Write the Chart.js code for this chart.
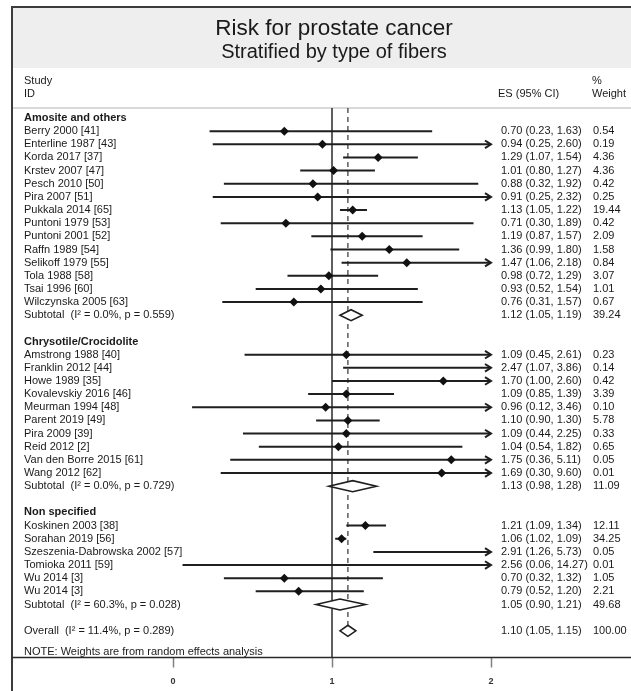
<!DOCTYPE html>
<html><head><meta charset="utf-8">
<script src="https://cdn.jsdelivr.net/npm/chart.js@4"></script>
<style>html,body{margin:0;padding:0;background:#fff}canvas{display:block}</style>
</head><body>
<canvas id="c" width="631" height="691"></canvas>
<script>
const titleText = 'Risk for prostate cancer';
const subtitleText = 'Stratified by type of fibers';
const groupNames = ['Amosite and others', 'Chrysotile/Crocidolite', 'Non specified'];
const studyNames = [
  'Berry 2000 [41]', 'Enterline 1987 [43]', 'Korda 2017 [37]', 'Krstev 2007 [47]', 'Pesch 2010 [50]',
  'Pira 2007 [51]', 'Pukkala 2014 [65]', 'Puntoni 1979 [53]', 'Puntoni 2001 [52]', 'Raffn 1989 [54]',
  'Selikoff 1979 [55]', 'Tola 1988 [58]', 'Tsai 1996 [60]', 'Wilczynska 2005 [63]',
  'Amstrong 1988 [40]', 'Franklin 2012 [44]', 'Howe 1989 [35]', 'Kovalevskiy 2016 [46]', 'Meurman 1994 [48]',
  'Parent 2019 [49]', 'Pira 2009 [39]', 'Reid 2012 [2]', 'Van den Borre 2015 [61]', 'Wang 2012 [62]',
  'Koskinen 2003 [38]', 'Sorahan 2019 [56]', 'Szeszenia-Dabrowska 2002 [57]', 'Tomioka 2011 [59]',
  'Wu 2014 [3]', 'Wu 2014 [3]'
];
const studyGroup = [0,0,0,0,0,0,0,0,0,0,0,0,0,0, 1,1,1,1,1,1,1,1,1,1, 2,2,2,2,2,2];
const esValues = [0.70, 0.94, 1.29, 1.01, 0.88, 0.91, 1.13, 0.71, 1.19, 1.36, 1.47, 0.98, 0.93, 0.76,
  1.09, 2.47, 1.70, 1.09, 0.96, 1.10, 1.09, 1.04, 1.75, 1.69,
  1.21, 1.06, 2.91, 2.56, 0.70, 0.79];
const ciLower = [0.23, 0.25, 1.07, 0.80, 0.32, 0.25, 1.05, 0.30, 0.87, 0.99, 1.06, 0.72, 0.52, 0.31,
  0.45, 1.07, 1.00, 0.85, 0.12, 0.90, 0.44, 0.54, 0.36, 0.30,
  1.09, 1.02, 1.26, 0.06, 0.32, 0.52];
const ciUpper = [1.63, 2.60, 1.54, 1.27, 1.92, 2.32, 1.22, 1.89, 1.57, 1.80, 2.18, 1.29, 1.54, 1.57,
  2.61, 3.86, 2.60, 1.39, 3.46, 1.30, 2.25, 1.82, 5.11, 9.60,
  1.34, 1.09, 5.73, 14.27, 1.32, 1.20];
const weightPct = [0.54, 0.19, 4.36, 4.36, 0.42, 0.25, 19.44, 0.42, 2.09, 1.58, 0.84, 3.07, 1.01, 0.67,
  0.23, 0.14, 0.42, 3.39, 0.10, 5.78, 0.33, 0.65, 0.05, 0.01,
  12.11, 34.25, 0.05, 0.01, 1.05, 2.21];
const subtotalI2 = [0.0, 0.0, 60.3];
const subtotalP = [0.559, 0.729, 0.028];
const subtotalES = [1.12, 1.13, 1.05];
const subtotalLower = [1.05, 0.98, 0.90];
const subtotalUpper = [1.19, 1.28, 1.21];
const subtotalWeight = [39.24, 11.09, 49.68];
const overallI2 = [11.4];
const overallP = [0.289];
const overallES = [1.10];
const overallLower = [1.05];
const overallUpper = [1.15];
const overallWeight = [100.00];
const xTicks = [0, 1, 2];
const noteText = 'NOTE: Weights are from random effects analysis';

// ---- build rows ----
const X_MIN = xTicks[0], X_MAX = xTicks[xTicks.length - 1];
const rows = [];
let r = 0;
groupNames.forEach((g, gi) => {
  rows.push({ kind: 'header', row: r++, label: g });
  studyNames.forEach((s, i) => {
    if (studyGroup[i] !== gi) return;
    rows.push({ kind: 'study', row: r++, label: s, es: esValues[i], lo: ciLower[i], hi: ciUpper[i], w: weightPct[i] });
  });
  rows.push({ kind: 'sub', row: r++, label: 'Subtotal  (I\u00B2 = ' + subtotalI2[gi].toFixed(1) + '%, p = ' + subtotalP[gi].toFixed(3) + ')',
    es: subtotalES[gi], lo: subtotalLower[gi], hi: subtotalUpper[gi], w: subtotalWeight[gi] });
  r++;
});
rows.push({ kind: 'overall', row: r, label: 'Overall  (I\u00B2 = ' + overallI2[0].toFixed(1) + '%, p = ' + overallP[0].toFixed(3) + ')',
  es: overallES[0], lo: overallLower[0], hi: overallUpper[0], w: overallWeight[0] });
const overallRow = r;
const noteRow = r + 1.6;

const FONT = "'Liberation Sans', Arial, Helvetica, sans-serif";
const datasets = [];
const markerData = [];
rows.forEach(o => {
  if (o.kind !== 'study') return;
  datasets.push({
    data: [{ x: Math.max(o.lo, X_MIN), y: o.row }, { x: Math.min(o.hi, X_MAX), y: o.row }],
    showLine: true, pointRadius: 0, borderColor: '#1f1f1f', borderWidth: 2, order: 2
  });
  if (o.es >= X_MIN && o.es <= X_MAX) markerData.push({ x: o.es, y: o.row });
});
datasets.push({
  data: markerData, pointStyle: 'rectRot', pointRadius: 4.5, pointBackgroundColor: '#111',
  pointBorderColor: '#111', pointBorderWidth: 0, showLine: false, order: 0
});

const fmt = v => v.toFixed(2);

const forestPlugin = {
  id: 'forest',
  beforeDraw(chart) {
    const c = chart.ctx, W = chart.width, H = chart.height;
    c.save();
    c.fillStyle = '#ffffff'; c.fillRect(0, 0, W, H);
    c.fillStyle = '#eeeeee'; c.fillRect(13, 8, W - 13, 60);
    c.strokeStyle = '#3c3c3c'; c.lineWidth = 2;
    c.beginPath(); c.moveTo(12, H); c.lineTo(12, 7); c.lineTo(W, 7); c.stroke();
    c.strokeStyle = '#cccccc'; c.lineWidth = 1.5;
    c.beginPath(); c.moveTo(13, chart.chartArea.top); c.lineTo(W, chart.chartArea.top); c.stroke();
    c.fillStyle = '#1a1a1a'; c.textAlign = 'center'; c.textBaseline = 'middle';
    c.font = '22.5px ' + FONT; c.fillText(titleText, 334, 29);
    c.font = '20px ' + FONT; c.fillText(subtitleText, 334, 52);
    c.font = '11px ' + FONT; c.textAlign = 'left';
    c.fillText('Study', 24, 81); c.fillText('ID', 24, 94);
    c.fillText('ES (95% CI)', 498, 94);
    c.fillText('%', 592, 81); c.fillText('Weight', 592, 94);
    c.restore();
  },
  beforeDatasetsDraw(chart) {
    const c = chart.ctx, xs = chart.scales.x, ys = chart.scales.y, ca = chart.chartArea;
    c.save();
    c.strokeStyle = '#2a2a2a'; c.lineWidth = 1.5;
    const x1 = xs.getPixelForValue(1);
    c.beginPath(); c.moveTo(x1, ca.top); c.lineTo(x1, ca.bottom); c.stroke();
    const xo = xs.getPixelForValue(overallES[0]);
    c.setLineDash([5, 4]); c.lineWidth = 1.2; c.strokeStyle = '#333';
    c.beginPath(); c.moveTo(xo, ca.top); c.lineTo(xo, ys.getPixelForValue(overallRow) - 5); c.stroke();
    c.restore();
  },
  afterDatasetsDraw(chart) {
    const c = chart.ctx, xs = chart.scales.x, ys = chart.scales.y, W = chart.width, ca = chart.chartArea;
    c.save();
    rows.forEach(o => {
      const y = ys.getPixelForValue(o.row);
      if (o.kind === 'study' && o.hi > X_MAX) {
        const tip = xs.getPixelForValue(X_MAX);
        c.strokeStyle = '#1f1f1f'; c.lineWidth = 2; c.lineJoin = 'miter';
        c.beginPath(); c.moveTo(tip - 6, y - 3.8); c.lineTo(tip, y); c.lineTo(tip - 6, y + 3.8); c.stroke();
      }
      if (o.kind === 'sub' || o.kind === 'overall') {
        const xl = xs.getPixelForValue(o.lo), xe = xs.getPixelForValue(o.es), xh = xs.getPixelForValue(o.hi);
        c.beginPath(); c.moveTo(xl, y); c.lineTo(xe, y - 5.5); c.lineTo(xh, y); c.lineTo(xe, y + 5.5); c.closePath();
        c.fillStyle = '#fff'; c.fill();
        c.strokeStyle = '#1f1f1f'; c.lineWidth = 1.6; c.stroke();
      }
    });
    // text columns
    c.fillStyle = '#1a1a1a'; c.textBaseline = 'middle'; c.textAlign = 'left';
    rows.forEach(o => {
      const y = ys.getPixelForValue(o.row);
      c.font = (o.kind === 'header' ? 'bold ' : '') + '11px ' + FONT;
      c.fillText(o.label, 24, y);
      if (o.kind !== 'header') {
        c.font = '11px ' + FONT;
        c.fillText(fmt(o.es) + ' (' + fmt(o.lo) + ', ' + fmt(o.hi) + ')', 501, y);
        c.fillText(fmt(o.w), 593, y);
      }
    });
    c.font = '11px ' + FONT;
    c.fillText(noteText, 24, ys.getPixelForValue(noteRow));
    // axis line
    c.strokeStyle = '#2a2a2a'; c.lineWidth = 1.5;
    c.beginPath(); c.moveTo(12, ca.bottom); c.lineTo(W, ca.bottom); c.stroke();
    c.restore();
  }
};

new Chart(document.getElementById('c'), {
  type: 'scatter',
  data: { datasets },
  options: {
    responsive: false, animation: false, devicePixelRatio: 1,
    layout: { padding: { left: 173, right: 140, top: 108, bottom: 0 } },
    plugins: { legend: { display: false }, tooltip: { enabled: false }, title: { display: false } },
    scales: {
      x: {
        type: 'linear', min: X_MIN, max: X_MAX,
        afterBuildTicks: s => { s.ticks = xTicks.map(v => ({ value: v })); },
        afterFit: s => { s.height = 33.5; },
        grid: { drawOnChartArea: false, drawTicks: true, tickLength: 10, tickColor: '#808080', tickWidth: 1.5 },
        border: { display: false },
        ticks: { font: { size: 9, weight: 'bold', family: FONT }, color: '#333', padding: 9, maxRotation: 0 }
      },
      y: { type: 'linear', min: -0.76, max: 41.03, reverse: true, display: false }
    }
  },
  plugins: [forestPlugin]
});
</script>
</body></html>
